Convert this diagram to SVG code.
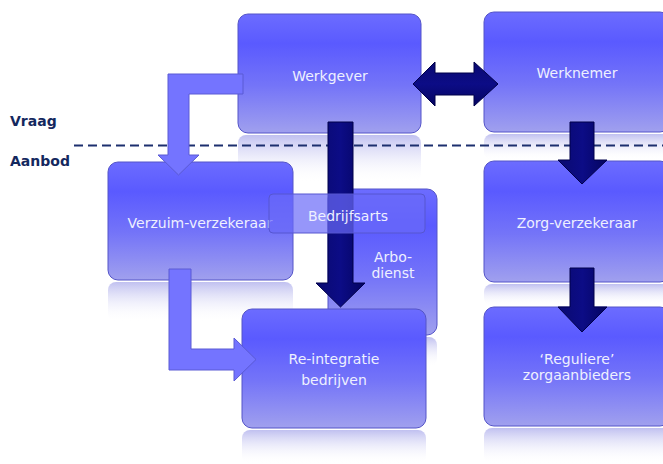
<svg xmlns="http://www.w3.org/2000/svg" width="663" height="464" viewBox="0 0 663 464">
<defs>
<linearGradient id="boxg" x1="0" y1="0" x2="0" y2="1">
<stop offset="0" stop-color="#6c6cff"/>
<stop offset="0.25" stop-color="#5a5aff"/>
<stop offset="0.6" stop-color="#7474f8"/>
<stop offset="1" stop-color="#a0a0ee"/>
</linearGradient>
<linearGradient id="reflg" x1="0" y1="0" x2="0" y2="1">
<stop offset="0" stop-color="#c0c0f0"/>
<stop offset="1" stop-color="#ffffff" stop-opacity="0"/>
</linearGradient>
<linearGradient id="darkv" x1="0" y1="0" x2="1" y2="0">
<stop offset="0" stop-color="#0a0a70"/>
<stop offset="0.5" stop-color="#0c0c86"/>
<stop offset="1" stop-color="#040460"/>
</linearGradient>
<linearGradient id="darkh" x1="0" y1="0" x2="0" y2="1">
<stop offset="0" stop-color="#0a0a70"/>
<stop offset="0.5" stop-color="#0c0c86"/>
<stop offset="1" stop-color="#040460"/>
</linearGradient>
<style>
.box{fill:url(#boxg);stroke:#5454c8;stroke-width:1}
.refl{fill:url(#reflg)}
.t{font-family:"DejaVu Sans",Verdana,sans-serif;font-size:14px;fill:#eef0ff;text-anchor:middle}
.lbl{font-family:"DejaVu Sans",Verdana,sans-serif;font-size:14px;font-weight:bold;fill:#14285e}
.light{fill:#7474ff;stroke:#5a5ad4;stroke-width:1}
.darkv{fill:url(#darkv);stroke:#00004a;stroke-width:1}
.darkh{fill:url(#darkh);stroke:#00004a;stroke-width:1}
</style>
</defs>
<rect width="663" height="464" fill="#ffffff"/>
<g id="reflections">
<rect class="refl" x="238" y="135" width="183" height="48" rx="8"/>
<rect class="refl" x="484" y="134" width="186" height="26" rx="8"/>
<rect class="refl" x="108" y="282" width="185" height="40" rx="8"/>
<rect class="refl" x="484" y="284" width="186" height="22" rx="8"/>
<rect class="refl" x="328" y="337" width="109" height="30" rx="8"/>
<rect class="refl" x="242" y="430" width="184" height="34" rx="8"/>
<rect class="refl" x="484" y="428" width="186" height="36" rx="8"/>
</g>
<g id="labels">
<text class="lbl" x="10" y="126">Vraag</text>
<text class="lbl" x="10" y="166">Aanbod</text>
<line x1="74" y1="145.5" x2="663" y2="145.5" stroke="#1c2f6e" stroke-width="2" stroke-dasharray="9 5"/>
</g>
<g id="werkgever">
<rect class="box" x="238" y="14" width="183" height="119" rx="10"/>
<text class="t" x="330" y="81">Werkgever</text>
</g>
<g id="werknemer">
<rect class="box" x="484" y="12" width="186" height="120" rx="10"/>
<text class="t" x="577" y="78">Werknemer</text>
</g>
<g id="verzuim-verzekeraar">
<rect class="box" x="108" y="162" width="185" height="118" rx="10"/>
<text class="t" x="200" y="228">Verzuim-verzekeraar</text>
</g>
<g id="zorg-verzekeraar">
<rect class="box" x="484" y="161" width="186" height="121" rx="10"/>
<text class="t" x="577" y="228">Zorg-verzekeraar</text>
</g>
<g id="arbodienst">
<rect class="box" x="328" y="189" width="109" height="146" rx="10"/>
<text class="t" x="393" y="262">Arbo-</text>
<text class="t" x="393" y="278">dienst</text>
</g>
<g id="re-integratie">
<rect class="box" x="242" y="309" width="184" height="119" rx="10"/>
<text class="t" x="334" y="364">Re-integratie</text>
<text class="t" x="334" y="385">bedrijven</text>
</g>
<g id="reguliere">
<rect class="box" x="484" y="307" width="186" height="119" rx="10"/>
<text class="t" x="577" y="364">‘Reguliere’</text>
<text class="t" x="577" y="380">zorgaanbieders</text>
</g>
<g id="connectors">
<path class="light" d="M243,74 L168,74 L168,155 L158,155 L178.5,175 L199,155 L189,155 L189,94 L243,94 Z"/>
<path class="light" d="M169,269 L191,269 L191,349 L234,349 L234,338 L256,359.5 L234,381 L234,370 L169,370 Z"/>
<path class="darkv" d="M328,122 L353,122 L353,283 L365,283 L340.5,307 L316,283 L328,283 Z"/>
<path class="darkh" d="M413,84 L435,62 L435,73 L474,73 L474,62 L498,84 L474,106 L474,95 L435,95 L435,106 Z"/>
<path class="darkv" d="M570,122 L594,122 L594,160 L607,160 L582,184 L558,160 L570,160 Z"/>
<path class="darkv" d="M570,268 L594,268 L594,307 L607,307 L582,332 L558,307 L570,307 Z"/>
</g>
<g id="bedrijfsarts">
<rect x="269" y="194" width="156" height="39" rx="4" fill="#6a6af8" fill-opacity="0.7" stroke="#5656d0" stroke-width="1"/>
<text class="t" x="348" y="221">Bedrijfsarts</text>
</g>
</svg>
